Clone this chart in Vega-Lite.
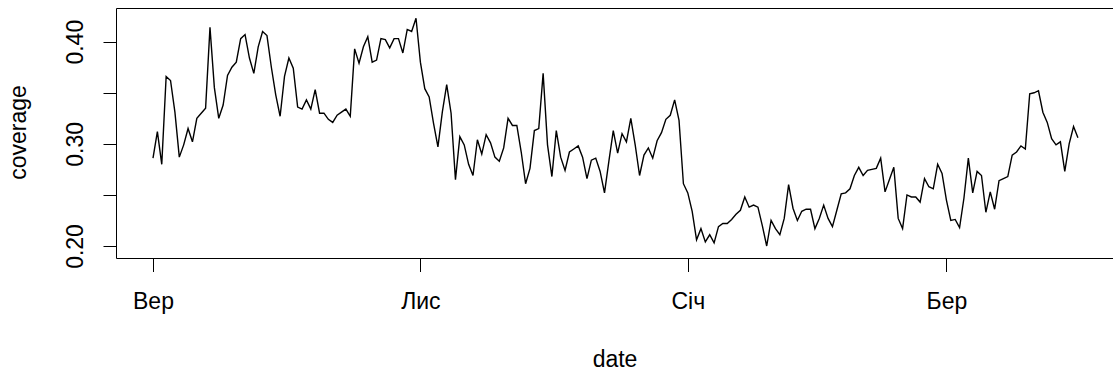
{
  "$schema": "https://vega.github.io/schema/vega-lite/v6.json",
  "width": 997,
  "height": 250,
  "autosize": {"type": "none"},
  "padding": {"left": 116, "top": 8, "right": 0, "bottom": 113},
  "background": "white",
  "config": {
    "view": {"stroke": null},
    "font": "Liberation Sans",
    "axis": {
      "grid": false,
      "domainColor": "black",
      "tickColor": "black",
      "labelColor": "black",
      "titleColor": "black",
      "domainWidth": 1,
      "tickWidth": 1,
      "labelFontSize": 23,
      "titleFontSize": 23,
      "titleFontWeight": "normal",
      "labelFlush": false,
      "labelOverlap": false
    }
  },
  "data": {
    "values": [
      {"date": "2018-09-01", "coverage": 0.286},
      {"date": "2018-09-02", "coverage": 0.312},
      {"date": "2018-09-03", "coverage": 0.280},
      {"date": "2018-09-04", "coverage": 0.366},
      {"date": "2018-09-05", "coverage": 0.362},
      {"date": "2018-09-06", "coverage": 0.331},
      {"date": "2018-09-07", "coverage": 0.287},
      {"date": "2018-09-08", "coverage": 0.299},
      {"date": "2018-09-09", "coverage": 0.315},
      {"date": "2018-09-10", "coverage": 0.302},
      {"date": "2018-09-11", "coverage": 0.325},
      {"date": "2018-09-12", "coverage": 0.330},
      {"date": "2018-09-13", "coverage": 0.335},
      {"date": "2018-09-14", "coverage": 0.414},
      {"date": "2018-09-15", "coverage": 0.355},
      {"date": "2018-09-16", "coverage": 0.325},
      {"date": "2018-09-17", "coverage": 0.338},
      {"date": "2018-09-18", "coverage": 0.367},
      {"date": "2018-09-19", "coverage": 0.375},
      {"date": "2018-09-20", "coverage": 0.380},
      {"date": "2018-09-21", "coverage": 0.403},
      {"date": "2018-09-22", "coverage": 0.407},
      {"date": "2018-09-23", "coverage": 0.384},
      {"date": "2018-09-24", "coverage": 0.369},
      {"date": "2018-09-25", "coverage": 0.395},
      {"date": "2018-09-26", "coverage": 0.410},
      {"date": "2018-09-27", "coverage": 0.406},
      {"date": "2018-09-28", "coverage": 0.375},
      {"date": "2018-09-29", "coverage": 0.348},
      {"date": "2018-09-30", "coverage": 0.327},
      {"date": "2018-10-01", "coverage": 0.366},
      {"date": "2018-10-02", "coverage": 0.384},
      {"date": "2018-10-03", "coverage": 0.374},
      {"date": "2018-10-04", "coverage": 0.336},
      {"date": "2018-10-05", "coverage": 0.334},
      {"date": "2018-10-06", "coverage": 0.343},
      {"date": "2018-10-07", "coverage": 0.334},
      {"date": "2018-10-08", "coverage": 0.353},
      {"date": "2018-10-09", "coverage": 0.330},
      {"date": "2018-10-10", "coverage": 0.330},
      {"date": "2018-10-11", "coverage": 0.324},
      {"date": "2018-10-12", "coverage": 0.321},
      {"date": "2018-10-13", "coverage": 0.328},
      {"date": "2018-10-14", "coverage": 0.331},
      {"date": "2018-10-15", "coverage": 0.334},
      {"date": "2018-10-16", "coverage": 0.327},
      {"date": "2018-10-17", "coverage": 0.393},
      {"date": "2018-10-18", "coverage": 0.379},
      {"date": "2018-10-19", "coverage": 0.395},
      {"date": "2018-10-20", "coverage": 0.405},
      {"date": "2018-10-21", "coverage": 0.380},
      {"date": "2018-10-22", "coverage": 0.382},
      {"date": "2018-10-23", "coverage": 0.403},
      {"date": "2018-10-24", "coverage": 0.402},
      {"date": "2018-10-25", "coverage": 0.394},
      {"date": "2018-10-26", "coverage": 0.403},
      {"date": "2018-10-27", "coverage": 0.403},
      {"date": "2018-10-28", "coverage": 0.389},
      {"date": "2018-10-29", "coverage": 0.412},
      {"date": "2018-10-30", "coverage": 0.410},
      {"date": "2018-10-31", "coverage": 0.423},
      {"date": "2018-11-01", "coverage": 0.380},
      {"date": "2018-11-02", "coverage": 0.354},
      {"date": "2018-11-03", "coverage": 0.346},
      {"date": "2018-11-04", "coverage": 0.320},
      {"date": "2018-11-05", "coverage": 0.297},
      {"date": "2018-11-06", "coverage": 0.331},
      {"date": "2018-11-07", "coverage": 0.358},
      {"date": "2018-11-08", "coverage": 0.330},
      {"date": "2018-11-09", "coverage": 0.265},
      {"date": "2018-11-10", "coverage": 0.307},
      {"date": "2018-11-11", "coverage": 0.299},
      {"date": "2018-11-12", "coverage": 0.280},
      {"date": "2018-11-13", "coverage": 0.269},
      {"date": "2018-11-14", "coverage": 0.304},
      {"date": "2018-11-15", "coverage": 0.290},
      {"date": "2018-11-16", "coverage": 0.309},
      {"date": "2018-11-17", "coverage": 0.301},
      {"date": "2018-11-18", "coverage": 0.287},
      {"date": "2018-11-19", "coverage": 0.283},
      {"date": "2018-11-20", "coverage": 0.296},
      {"date": "2018-11-21", "coverage": 0.325},
      {"date": "2018-11-22", "coverage": 0.318},
      {"date": "2018-11-23", "coverage": 0.318},
      {"date": "2018-11-24", "coverage": 0.292},
      {"date": "2018-11-25", "coverage": 0.261},
      {"date": "2018-11-26", "coverage": 0.276},
      {"date": "2018-11-27", "coverage": 0.313},
      {"date": "2018-11-28", "coverage": 0.315},
      {"date": "2018-11-29", "coverage": 0.369},
      {"date": "2018-11-30", "coverage": 0.299},
      {"date": "2018-12-01", "coverage": 0.268},
      {"date": "2018-12-02", "coverage": 0.313},
      {"date": "2018-12-03", "coverage": 0.287},
      {"date": "2018-12-04", "coverage": 0.274},
      {"date": "2018-12-05", "coverage": 0.292},
      {"date": "2018-12-06", "coverage": 0.295},
      {"date": "2018-12-07", "coverage": 0.298},
      {"date": "2018-12-08", "coverage": 0.287},
      {"date": "2018-12-09", "coverage": 0.266},
      {"date": "2018-12-10", "coverage": 0.284},
      {"date": "2018-12-11", "coverage": 0.286},
      {"date": "2018-12-12", "coverage": 0.273},
      {"date": "2018-12-13", "coverage": 0.252},
      {"date": "2018-12-14", "coverage": 0.283},
      {"date": "2018-12-15", "coverage": 0.313},
      {"date": "2018-12-16", "coverage": 0.291},
      {"date": "2018-12-17", "coverage": 0.310},
      {"date": "2018-12-18", "coverage": 0.302},
      {"date": "2018-12-19", "coverage": 0.325},
      {"date": "2018-12-20", "coverage": 0.299},
      {"date": "2018-12-21", "coverage": 0.269},
      {"date": "2018-12-22", "coverage": 0.289},
      {"date": "2018-12-23", "coverage": 0.296},
      {"date": "2018-12-24", "coverage": 0.286},
      {"date": "2018-12-25", "coverage": 0.303},
      {"date": "2018-12-26", "coverage": 0.311},
      {"date": "2018-12-27", "coverage": 0.324},
      {"date": "2018-12-28", "coverage": 0.328},
      {"date": "2018-12-29", "coverage": 0.343},
      {"date": "2018-12-30", "coverage": 0.323},
      {"date": "2018-12-31", "coverage": 0.261},
      {"date": "2019-01-01", "coverage": 0.252},
      {"date": "2019-01-02", "coverage": 0.234},
      {"date": "2019-01-03", "coverage": 0.206},
      {"date": "2019-01-04", "coverage": 0.217},
      {"date": "2019-01-05", "coverage": 0.204},
      {"date": "2019-01-06", "coverage": 0.211},
      {"date": "2019-01-07", "coverage": 0.203},
      {"date": "2019-01-08", "coverage": 0.219},
      {"date": "2019-01-09", "coverage": 0.222},
      {"date": "2019-01-10", "coverage": 0.222},
      {"date": "2019-01-11", "coverage": 0.226},
      {"date": "2019-01-12", "coverage": 0.231},
      {"date": "2019-01-13", "coverage": 0.235},
      {"date": "2019-01-14", "coverage": 0.248},
      {"date": "2019-01-15", "coverage": 0.238},
      {"date": "2019-01-16", "coverage": 0.240},
      {"date": "2019-01-17", "coverage": 0.238},
      {"date": "2019-01-18", "coverage": 0.220},
      {"date": "2019-01-19", "coverage": 0.200},
      {"date": "2019-01-20", "coverage": 0.225},
      {"date": "2019-01-21", "coverage": 0.217},
      {"date": "2019-01-22", "coverage": 0.211},
      {"date": "2019-01-23", "coverage": 0.227},
      {"date": "2019-01-24", "coverage": 0.260},
      {"date": "2019-01-25", "coverage": 0.237},
      {"date": "2019-01-26", "coverage": 0.225},
      {"date": "2019-01-27", "coverage": 0.234},
      {"date": "2019-01-28", "coverage": 0.236},
      {"date": "2019-01-29", "coverage": 0.236},
      {"date": "2019-01-30", "coverage": 0.217},
      {"date": "2019-01-31", "coverage": 0.227},
      {"date": "2019-02-01", "coverage": 0.240},
      {"date": "2019-02-02", "coverage": 0.227},
      {"date": "2019-02-03", "coverage": 0.219},
      {"date": "2019-02-04", "coverage": 0.235},
      {"date": "2019-02-05", "coverage": 0.251},
      {"date": "2019-02-06", "coverage": 0.252},
      {"date": "2019-02-07", "coverage": 0.256},
      {"date": "2019-02-08", "coverage": 0.269},
      {"date": "2019-02-09", "coverage": 0.277},
      {"date": "2019-02-10", "coverage": 0.269},
      {"date": "2019-02-11", "coverage": 0.274},
      {"date": "2019-02-12", "coverage": 0.275},
      {"date": "2019-02-13", "coverage": 0.276},
      {"date": "2019-02-14", "coverage": 0.286},
      {"date": "2019-02-15", "coverage": 0.253},
      {"date": "2019-02-16", "coverage": 0.265},
      {"date": "2019-02-17", "coverage": 0.277},
      {"date": "2019-02-18", "coverage": 0.227},
      {"date": "2019-02-19", "coverage": 0.217},
      {"date": "2019-02-20", "coverage": 0.250},
      {"date": "2019-02-21", "coverage": 0.248},
      {"date": "2019-02-22", "coverage": 0.248},
      {"date": "2019-02-23", "coverage": 0.243},
      {"date": "2019-02-24", "coverage": 0.266},
      {"date": "2019-02-25", "coverage": 0.258},
      {"date": "2019-02-26", "coverage": 0.256},
      {"date": "2019-02-27", "coverage": 0.280},
      {"date": "2019-02-28", "coverage": 0.271},
      {"date": "2019-03-01", "coverage": 0.245},
      {"date": "2019-03-02", "coverage": 0.225},
      {"date": "2019-03-03", "coverage": 0.226},
      {"date": "2019-03-04", "coverage": 0.218},
      {"date": "2019-03-05", "coverage": 0.247},
      {"date": "2019-03-06", "coverage": 0.286},
      {"date": "2019-03-07", "coverage": 0.252},
      {"date": "2019-03-08", "coverage": 0.273},
      {"date": "2019-03-09", "coverage": 0.269},
      {"date": "2019-03-10", "coverage": 0.233},
      {"date": "2019-03-11", "coverage": 0.253},
      {"date": "2019-03-12", "coverage": 0.236},
      {"date": "2019-03-13", "coverage": 0.264},
      {"date": "2019-03-14", "coverage": 0.266},
      {"date": "2019-03-15", "coverage": 0.268},
      {"date": "2019-03-16", "coverage": 0.289},
      {"date": "2019-03-17", "coverage": 0.292},
      {"date": "2019-03-18", "coverage": 0.298},
      {"date": "2019-03-19", "coverage": 0.295},
      {"date": "2019-03-20", "coverage": 0.349},
      {"date": "2019-03-21", "coverage": 0.350},
      {"date": "2019-03-22", "coverage": 0.352},
      {"date": "2019-03-23", "coverage": 0.331},
      {"date": "2019-03-24", "coverage": 0.321},
      {"date": "2019-03-25", "coverage": 0.305},
      {"date": "2019-03-26", "coverage": 0.299},
      {"date": "2019-03-27", "coverage": 0.302},
      {"date": "2019-03-28", "coverage": 0.273},
      {"date": "2019-03-29", "coverage": 0.300},
      {"date": "2019-03-30", "coverage": 0.317},
      {"date": "2019-03-31", "coverage": 0.306}
    ]
  },
  "layer": [
    {
      "mark": {"type": "line", "color": "black", "strokeWidth": 1.4},
      "encoding": {
        "x": {
          "field": "date",
          "type": "temporal",
          "scale": {
            "type": "utc",
            "domain": [
              {"year": 2018, "month": 8, "date": 23, "hours": 13, "minutes": 26, "utc": true},
              {"year": 2019, "month": 4, "date": 8, "hours": 0, "minutes": 0, "utc": true}
            ]
          },
          "axis": {
            "orient": "bottom",
            "values": [
              {"year": 2018, "month": 9, "date": 1, "utc": true},
              {"year": 2018, "month": 11, "date": 1, "utc": true},
              {"year": 2019, "month": 1, "date": 1, "utc": true},
              {"year": 2019, "month": 3, "date": 1, "utc": true}
            ],
            "labelExpr": "['Січ','Лют','Бер','Кві','Тра','Чер','Лип','Сер','Вер','Жов','Лис','Гру'][utcmonth(datum.value)]",
            "tickSize": 13.5,
            "labelPadding": 37,
            "labelBaseline": "alphabetic",
            "labelAlign": "center",
            "title": "date",
            "titleX": 498.5,
            "titleY": 108.5,
            "titleBaseline": "alphabetic",
            "titleAlign": "center"
          }
        },
        "y": {
          "field": "coverage",
          "type": "quantitative",
          "scale": {"domain": [0.18825, 0.433], "nice": false, "zero": false},
          "axis": {
            "values": [0.2, 0.25, 0.3, 0.35, 0.4],
            "labelExpr": "round(datum.value*100) % 10 == 0 ? format(datum.value, '.2f') : ''",
            "labelAngle": -90,
            "labelAlign": "center",
            "labelBaseline": "alphabetic",
            "tickSize": 13,
            "labelPadding": 21,
            "title": "coverage",
            "titleAngle": -90,
            "titleX": -91,
            "titleY": 124,
            "titleBaseline": "alphabetic",
            "titleAlign": "center"
          }
        }
      }
    },
    {
      "mark": {"type": "line", "opacity": 0},
      "encoding": {
        "x": {
          "field": "date",
          "type": "temporal",
          "scale": {
            "type": "utc",
            "domain": [
              {"year": 2018, "month": 8, "date": 23, "hours": 13, "minutes": 26, "utc": true},
              {"year": 2019, "month": 4, "date": 8, "hours": 0, "minutes": 0, "utc": true}
            ]
          },
          "axis": {"orient": "top", "labels": false, "ticks": false, "title": null, "domain": true}
        }
      }
    }
  ],
  "resolve": {"axis": {"x": "independent"}}
}
